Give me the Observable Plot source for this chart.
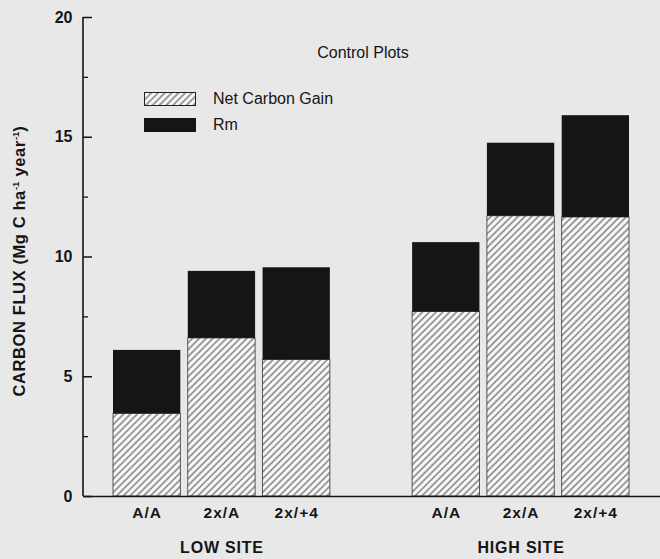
<!DOCTYPE html>
<html><head><meta charset="utf-8">
<script src="https://cdn.jsdelivr.net/npm/d3@7"></script>
<script src="https://cdn.jsdelivr.net/npm/@observablehq/plot@0.6"></script>
<style>
body{margin:0;background:#e8e8e8;}
#wrap{position:relative;width:660px;height:559px;background:#e8e8e8;font-family:"Liberation Sans",Arial,Helvetica,sans-serif;color:#151515;overflow:hidden}
#chart{position:absolute;left:0;top:0}
#ylab{position:absolute;left:19px;top:261px;transform:translate(-50%,-50%) rotate(-90deg);white-space:nowrap;font-size:16.5px;font-weight:bold;letter-spacing:0.6px}
#ylab sup{font-size:9.5px;vertical-align:6px;line-height:0;letter-spacing:0}
#title{position:absolute;left:363px;top:53px;transform:translate(-50%,-50%);font-size:16px;white-space:nowrap}
.leg{position:absolute;left:144px;display:flex;align-items:center;font-size:16px;white-space:nowrap}
.leg svg{margin-right:17px}
</style>
</head><body>
<svg width="0" height="0" style="position:absolute">
  <defs>
    <pattern id="hatch" patternUnits="userSpaceOnUse" width="4.8" height="10" patternTransform="rotate(45)">
      <rect width="4.8" height="10" fill="#f8f8f8"/>
      <line x1="1" y1="0" x2="1" y2="10" stroke="#2a2a2a" stroke-width="0.9"/>
    </pattern>
  </defs>
</svg>
<div id="wrap">
  <div id="chart"></div>
  <div id="ylab">CARBON FLUX (Mg C ha<sup>-1</sup> year<sup>-1</sup>)</div>
  <div id="title">Control Plots</div>
  <div class="leg" style="top:90px"><svg width="52" height="14"><rect x="0.5" y="0.5" width="51" height="13" fill="url(#hatch)" stroke="#222" stroke-width="1"/></svg>Net Carbon Gain</div>
  <div class="leg" style="top:116px"><svg width="52" height="14"><rect x="0" y="0" width="52" height="14" fill="#151515"/></svg>Rm</div>
</div>
<script>
const sites = ["LOW SITE", "LOW SITE", "LOW SITE", "HIGH SITE", "HIGH SITE", "HIGH SITE"];
const treatments = ["A/A", "2x/A", "2x/+4", "A/A", "2x/A", "2x/+4"];
const netCarbonGain = [3.45, 6.6, 5.7, 7.7, 11.7, 11.65];
const totalFlux = [6.1, 9.4, 9.55, 10.6, 14.75, 15.9];
const groupLabels = ["LOW SITE", "HIGH SITE"];
const majorTicks = [0, 5, 10, 15, 20];
const minorTicks = [2.5, 7.5, 12.5, 17.5];

const rows = sites.map((s, i) => ({
  key: s + "|" + treatments[i], site: s, treatment: treatments[i],
  net: netCarbonGain[i], total: totalFlux[i]
}));
const lowKeys = rows.filter(d => d.site === groupLabels[0]).map(d => d.key);
const highKeys = rows.filter(d => d.site === groupLabels[1]).map(d => d.key);
const domain = [...lowKeys, "gap", ...highKeys];
const groupRows = groupLabels.map((g, gi) => ({label: g, key: (gi === 0 ? lowKeys : highKeys)[1]}));

const chart = Plot.plot({
  width: 660, height: 559,
  marginLeft: 83, marginRight: 0, marginTop: 17, marginBottom: 63,
  style: {background: "transparent", fontFamily: "'Liberation Sans', Arial, sans-serif", fontSize: "16px", fontWeight: "bold", color: "#151515"},
  x: {domain, range: [113, 629], paddingInner: 0.1, paddingOuter: 0, round: false, axis: null},
  y: {domain: [0, 20], axis: null},
  marks: [
    Plot.barY(rows, {x: "key", y1: 0, y2: "net", fill: "url(#hatch)", stroke: "#333", strokeWidth: 0.8}),
    Plot.barY(rows, {x: "key", y1: "net", y2: "total", fill: "#151515"}),
    Plot.ruleY([0], {stroke: "#151515", strokeWidth: 1.6}),
    Plot.axisY({ticks: majorTicks, tickSize: -9, tickPadding: 20, tickFormat: d => String(d), stroke: "#151515", strokeWidth: 1.5, fontSize: 16, label: null}),
    Plot.axisY({ticks: minorTicks, tickSize: -5, tickFormat: () => "", stroke: "#151515", strokeWidth: 1.3, label: null}),
    Plot.axisX({ticks: [...lowKeys, ...highKeys], tickSize: 0, tickPadding: 10, tickFormat: k => k.split("|")[1], fontSize: 15.5, label: null}),
    Plot.text(groupRows, {x: "key", text: "label", frameAnchor: "bottom", dy: 56, fontSize: 16, fontWeight: "bold", fill: "#151515"})
  ]
});
const y = chart.scale("y");
d3.select(chart).append("line")
  .attr("x1", 83).attr("x2", 83)
  .attr("y1", y.apply(0)).attr("y2", y.apply(20))
  .attr("stroke", "#151515").attr("stroke-width", 1.6);
d3.select(chart).selectAll("g[aria-label='x-axis tick label'] text").style("letter-spacing", "1px");
d3.select(chart).selectAll("g[aria-label='text'] text").style("letter-spacing", "0.8px");
document.getElementById("chart").appendChild(chart);
</script>
</body></html>
